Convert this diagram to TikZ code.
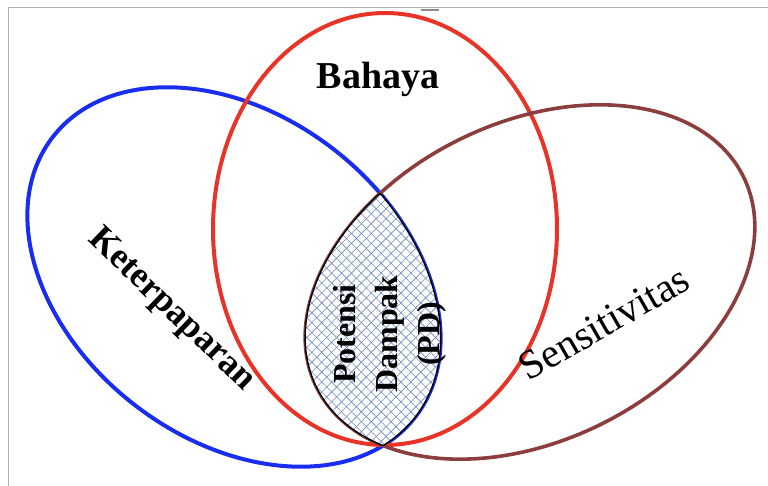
\documentclass[tikz,border=0pt]{standalone}
\usepackage{fontspec}
\setmainfont{Liberation Serif}
\usetikzlibrary{patterns.meta}
\definecolor{cblue}{RGB}{25,45,240}
\definecolor{cred}{RGB}{232,52,40}
\definecolor{cbrown}{RGB}{140,62,62}
\definecolor{hatch}{RGB}{110,135,190}
\definecolor{frame}{RGB}{175,175,175}
\tikzset{
  ring/.style={line width=4pt},
  lbl/.style={inner sep=0pt, font=\bfseries},
}
\begin{document}
\begin{tikzpicture}[x=1pt,y=-1pt]
\useasboundingbox (0,0) rectangle (768,486);
% frame
\coordinate (f1) at (8,486);
\coordinate (f2) at (8,8);
\coordinate (f3) at (768,8);
\draw[frame, line width=1pt] (f1) -- (f2) -- (f3);
\coordinate (t1) at (421,10);
\coordinate (t2) at (439,10);
\draw[frame!80!black, line width=2pt] (t1) -- (t2);
% centres
\coordinate (cb) at (234,277);
\coordinate (cr) at (385,229);
\coordinate (cs) at (530,282);
% ellipses
\draw[ring, cblue, rotate around={-37.6:(cb)}] (cb) ellipse [x radius=229pt, y radius=162pt];
\draw[ring, cred] (cr) ellipse [x radius=172pt, y radius=216pt];
\draw[ring, cbrown, line width=3.6pt, rotate around={26.2:(cs)}] (cs) ellipse [x radius=238pt, y radius=159pt];
% lens
\begin{scope}
  \clip[rotate around={-37.6:(cb)}] (cb) ellipse [x radius=229pt, y radius=162pt];
  \fill[white, rotate around={26.2:(cs)}] (cs) ellipse [x radius=238pt, y radius=159pt];
  \fill[pattern={Lines[angle=45,distance=7pt,line width=0.6pt]}, pattern color=hatch, rotate around={26.2:(cs)}] (cs) ellipse [x radius=238pt, y radius=159pt];
  \fill[pattern={Lines[angle=-45,distance=7pt,line width=0.6pt]}, pattern color=hatch, rotate around={26.2:(cs)}] (cs) ellipse [x radius=238pt, y radius=159pt];
  \draw[black, line width=1.4pt, rotate around={26.2:(cs)}] (cs) ellipse [x radius=238pt, y radius=159pt];
\end{scope}
\begin{scope}
  \clip[rotate around={26.2:(cs)}] (cs) ellipse [x radius=238pt, y radius=159pt];
  \draw[black, line width=1.4pt, rotate around={-37.6:(cb)}] (cb) ellipse [x radius=229pt, y radius=162pt];
\end{scope}
% labels
\node[lbl, font=\fontsize{38}{38}\selectfont\bfseries] (bahaya) at (378,79) {Bahaya};
\node[lbl, font=\fontsize{36}{36}\selectfont\bfseries, rotate=-44] (keter) at (171,310) {Keterpaparan};
\node[inner sep=0pt, font=\fontsize{41}{41}\selectfont, rotate=30] (sens) at (604,323) {Sensitivitas};
\node[lbl, font=\fontsize{32}{42}\selectfont\bfseries, rotate=90, align=center] (pd) at (390,334) {Potensi\\Dampak\\(PD)};
\end{tikzpicture}
\end{document}
